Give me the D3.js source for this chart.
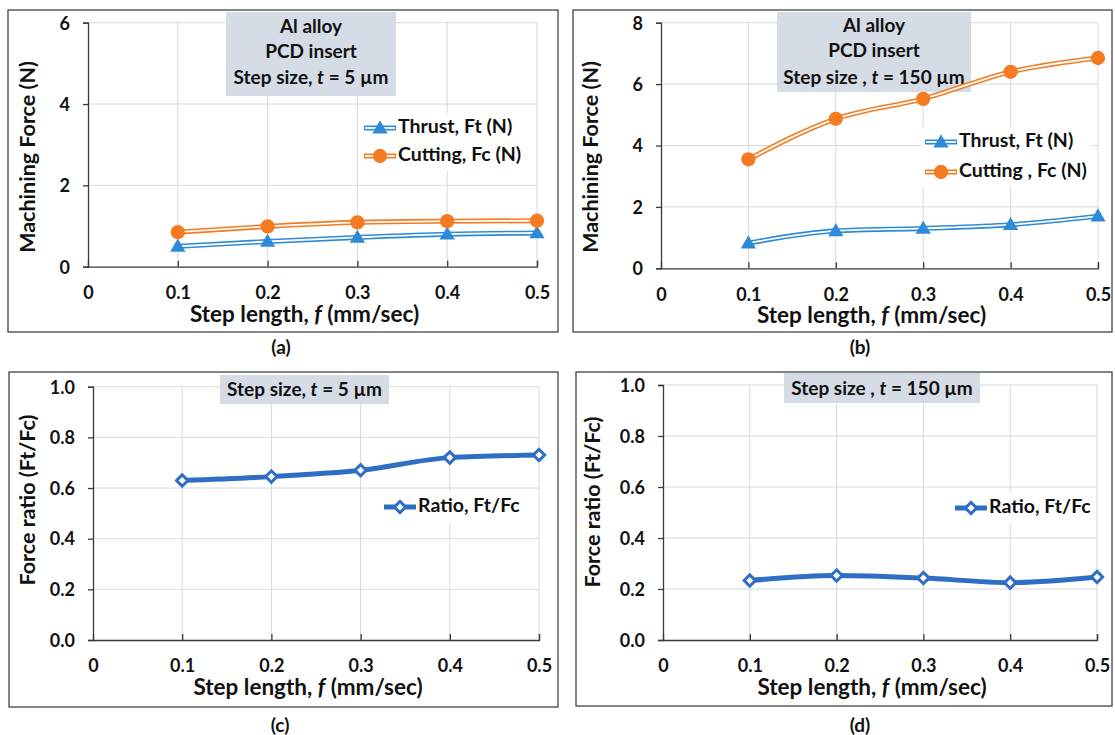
<!DOCTYPE html>
<html>
<head>
<meta charset="utf-8">
<script src="https://cdn.jsdelivr.net/npm/d3@7"></script>
<style>
  body { margin: 0; background: #fff; }
  svg { display: block; font-family: Lato, "Open Sans", sans-serif; font-weight: bold; }
</style>
</head>
<body>
<script>
// datos
var stepLength = [0.1, 0.2, 0.3, 0.4, 0.5];
var xTicks     = [0, 0.1, 0.2, 0.3, 0.4, 0.5];

var thrustA  = [0.50, 0.62, 0.72, 0.80, 0.83];
var cuttingA = [0.85, 0.99, 1.09, 1.12, 1.13];
var thrustB  = [0.82, 1.22, 1.30, 1.42, 1.70];
var cuttingB = [3.55, 4.87, 5.52, 6.40, 6.85];
var ratioC   = [0.630, 0.645, 0.670, 0.720, 0.730];
var ratioD   = [0.233, 0.253, 0.243, 0.225, 0.247];

var forceTicksA = [0, 2, 4, 6];
var forceTicksB = [0, 2, 4, 6, 8];
var ratioTicks  = [0, 0.2, 0.4, 0.6, 0.8, 1.0];

var azul    = "#2e8ad6";
var naranja = "#f47b20";
var azulRat = "#2e6fc4";

var svg = d3.select("body").append("svg")
            .attr("width", 1115)
            .attr("height", 735);

// dibuja un panel completo
function panel(cfg)
{
    var g = svg.append("g");

    g.append("rect")
     .attr("x", cfg.borde[0]).attr("y", cfg.borde[1])
     .attr("width", cfg.borde[2] - cfg.borde[0])
     .attr("height", cfg.borde[3] - cfg.borde[1])
     .style("fill", "none").style("stroke", "#444").style("stroke-width", 1.3);

    var x = d3.scaleLinear().domain([0, 0.5]).range([cfg.x0, cfg.x1]);
    var y = d3.scaleLinear().domain([0, cfg.yMax]).range([cfg.y0, cfg.y1]);

    // rejilla
    g.selectAll(".gh").data(cfg.yTicks.slice(1)).enter().append("line")
     .attr("x1", cfg.x0).attr("x2", cfg.x1)
     .attr("y1", function(d) { return y(d); }).attr("y2", function(d) { return y(d); })
     .style("stroke", "#d9d9d9").style("stroke-width", 1);
    g.selectAll(".gv").data(xTicks.slice(1)).enter().append("line")
     .attr("x1", function(d) { return x(d); }).attr("x2", function(d) { return x(d); })
     .attr("y1", cfg.y1).attr("y2", cfg.y0)
     .style("stroke", "#d9d9d9").style("stroke-width", 1);

    // ejes
    var ejeX = g.append("g").attr("transform", "translate(0," + cfg.y0 + ")")
                .call(d3.axisBottom(x).tickValues(xTicks).tickSize(-6)
                      .tickFormat(function(d) { return d === 0 ? "0" : d.toFixed(1); }));
    var ejeY = g.append("g").attr("transform", "translate(" + cfg.x0 + ",0)")
                .call(d3.axisLeft(y).tickValues(cfg.yTicks).tickSize(5).tickFormat(cfg.yFormat));
    [ejeX, ejeY].forEach(function(e) {
        e.select(".domain").style("stroke", "#3a3a3a").style("stroke-width", 1.3);
        e.selectAll(".tick line").style("stroke", "#3a3a3a").style("stroke-width", 1.3);
        e.selectAll("text").style("font-family", "Lato, sans-serif").style("font-weight", "bold")
         .style("font-size", "18px").style("fill", "#111");
    });
    ejeX.selectAll("text").attr("y", 26).attr("dy", "0.35em");
    ejeY.selectAll("text").attr("x", -18).attr("dy", "0.35em");
    ejeX.select(".tick").select("line").remove();

    // titulos
    var tx = g.append("text").attr("x", (cfg.x0 + cfg.x1) / 2 - 8).attr("y", cfg.y0 + 55)
              .attr("text-anchor", "middle")
              .style("font-size", "22.5px").style("fill", "#111");
    tx.append("tspan").text("Step length, ");
    tx.append("tspan").style("font-style", "italic").text("f");
    tx.append("tspan").text(" (mm/sec)");

    g.append("text").attr("transform", "translate(" + cfg.yTitulo[0] + "," + cfg.yTitulo[1] + ") rotate(-90)")
     .attr("text-anchor", "middle").attr("dominant-baseline", "middle")
     .style("font-size", "21.5px").style("fill", "#111").text(cfg.tituloY);

    g.append("text").attr("x", cfg.letra[0]).attr("y", cfg.letra[1])
     .attr("text-anchor", "middle").attr("dominant-baseline", "middle")
     .style("font-size", "19px").style("fill", "#111").text(cfg.etiqueta);

    // cuadro de anotacion
    var c = cfg.cuadro;
    g.append("rect").attr("x", c[0]).attr("y", c[1]).attr("width", c[2] - c[0]).attr("height", c[3] - c[1])
     .style("fill", "#d5dce5");
    cfg.lineas.forEach(function(l, i) {
        var t = g.append("text").attr("x", (c[0] + c[2]) / 2).attr("y", cfg.lineasY[i])
                 .attr("text-anchor", "middle").attr("dominant-baseline", "middle")
                 .style("font-size", "19px").style("fill", "#111");
        l.forEach(function(p) {
            t.append("tspan").style("font-style", p[1] ? "italic" : "normal").text(p[0]);
        });
    });

    var linea = d3.line().x(function(d) { return x(d[0]); }).y(function(d) { return y(d[1]); })
                  .curve(d3.curveMonotoneX);

    // leyenda (fondo blanco, ancho segun texto)
    var ley = cfg.leyenda;
    var fondo = g.append("rect").attr("x", ley.x - 4).attr("y", ley.ys[0] - 15)
                 .attr("height", ley.ys[ley.ys.length - 1] - ley.ys[0] + 30)
                 .style("fill", "#fff");
    var anchoMax = 0;

    cfg.series.forEach(function(s, i) {
        var pts = stepLength.map(function(v, k) { return [v, s.valores[k]]; });
        var yl = ley.ys[i];
        var lx = [ley.x, ley.x + 32];

        if (s.tipo === "doble")
        {
            g.append("path").datum(pts).attr("d", linea)
             .style("fill", "none").style("stroke", s.color).style("stroke-width", 5);
            g.append("path").datum(pts).attr("d", linea)
             .style("fill", "none").style("stroke", "#fff").style("stroke-width", 1.8);
            g.append("line").attr("x1", lx[0]).attr("x2", lx[1]).attr("y1", yl).attr("y2", yl)
             .style("stroke", s.color).style("stroke-width", 5);
            g.append("line").attr("x1", lx[0] + 1).attr("x2", lx[1] - 1).attr("y1", yl).attr("y2", yl)
             .style("stroke", "#fff").style("stroke-width", 1.8);
        }
        else
        {
            g.append("path").datum(pts).attr("d", linea)
             .style("fill", "none").style("stroke", s.color).style("stroke-width", 5);
            g.append("line").attr("x1", lx[0]).attr("x2", lx[1]).attr("y1", yl).attr("y2", yl)
             .style("stroke", s.color).style("stroke-width", 5);
        }

        var simbolo = d3.symbol().type(s.simbolo).size(s.tam);
        var marcas = pts.map(function(p) { return [x(p[0]), y(p[1])]; });
        marcas.push([(lx[0] + lx[1]) / 2, yl]);
        g.selectAll(".m" + i).data(marcas).enter().append("path")
         .attr("d", simbolo)
         .attr("transform", function(d) {
             return "translate(" + d[0] + "," + (d[1] + s.dy) + ")" + (s.rot ? " rotate(45)" : "");
         })
         .style("fill", s.relleno).style("stroke", s.color).style("stroke-width", s.borde);

        var t = g.append("text").attr("x", lx[1] + 2).attr("y", yl)
                 .attr("dominant-baseline", "middle")
                 .style("font-size", "19.5px").style("fill", "#111").text(s.nombre);
        anchoMax = Math.max(anchoMax, t.node().getComputedTextLength() + 42);
    });
    fondo.attr("width", anchoMax);
}

var fmtEntero = function(d) { return d3.format("d")(d); };
var fmtDecimal = function(d) { return d.toFixed(1); };

panel({
    borde: [8, 10, 558, 332], x0: 88, x1: 537, y0: 266.7, y1: 22.7, yMax: 6,
    yTicks: forceTicksA, yFormat: fmtEntero, tituloY: "Machining Force (N)", yTitulo: [29, 157],
    etiqueta: "(a)", letra: [281, 349],
    cuadro: [226, 12, 396, 96], lineasY: [28, 53, 79],
    lineas: [[["Al alloy"]], [["PCD insert"]], [["Step size, "], ["t", true], [" = 5 µm"]]],
    leyenda: { x: 364, ys: [128, 156] },
    series: [
        { nombre: "Thrust, Ft (N)", valores: thrustA, color: azul, relleno: azul, tipo: "doble",
          simbolo: d3.symbolTriangle, tam: 100, dy: 1, borde: 0 },
        { nombre: "Cutting, Fc (N)", valores: cuttingA, color: naranja, relleno: naranja, tipo: "doble",
          simbolo: d3.symbolCircle, tam: 160, dy: 0, borde: 0 }
    ]
});

panel({
    borde: [573, 10, 1112, 332], x0: 661, x1: 1098, y0: 268.3, y1: 22.7, yMax: 8,
    yTicks: forceTicksB, yFormat: fmtEntero, tituloY: "Machining Force (N)", yTitulo: [592, 157],
    etiqueta: "(b)", letra: [860, 349],
    cuadro: [777, 12, 971, 92], lineasY: [27, 52, 79],
    lineas: [[["Al alloy"]], [["PCD insert"]], [["Step size , "], ["t", true], [" = 150 µm"]]],
    leyenda: { x: 925, ys: [142, 172] },
    series: [
        { nombre: "Thrust, Ft (N)", valores: thrustB, color: azul, relleno: azul, tipo: "doble",
          simbolo: d3.symbolTriangle, tam: 100, dy: 1, borde: 0 },
        { nombre: "Cutting , Fc (N)", valores: cuttingB, color: naranja, relleno: naranja, tipo: "doble",
          simbolo: d3.symbolCircle, tam: 160, dy: 0, borde: 0 }
    ]
});

panel({
    borde: [9, 372, 558, 707], x0: 93, x1: 539, y0: 640, y1: 386.7, yMax: 1.0,
    yTicks: ratioTicks, yFormat: fmtDecimal, tituloY: "Force ratio (Ft/Fc)", yTitulo: [29, 500],
    etiqueta: "(c)", letra: [280, 727],
    cuadro: [220, 375, 389, 404], lineasY: [391],
    lineas: [[["Step size, "], ["t", true], [" = 5 µm"]]],
    leyenda: { x: 384, ys: [507] },
    series: [
        { nombre: "Ratio, Ft/Fc", valores: ratioC, color: azulRat, relleno: "#fff", tipo: "simple",
          simbolo: d3.symbolSquare, tam: 64, dy: 0, rot: true, borde: 3 }
    ]
});

panel({
    borde: [576, 372, 1112, 706], x0: 663, x1: 1097, y0: 640, y1: 385, yMax: 1.0,
    yTicks: ratioTicks, yFormat: fmtDecimal, tituloY: "Force ratio (Ft/Fc)", yTitulo: [594, 502],
    etiqueta: "(d)", letra: [860, 727],
    cuadro: [784, 373, 980, 403], lineasY: [390],
    lineas: [[["Step size , "], ["t", true], [" = 150 µm"]]],
    leyenda: { x: 955, ys: [508] },
    series: [
        { nombre: "Ratio, Ft/Fc", valores: ratioD, color: azulRat, relleno: "#fff", tipo: "simple",
          simbolo: d3.symbolSquare, tam: 64, dy: 0, rot: true, borde: 3 }
    ]
});
</script>
</body>
</html>
